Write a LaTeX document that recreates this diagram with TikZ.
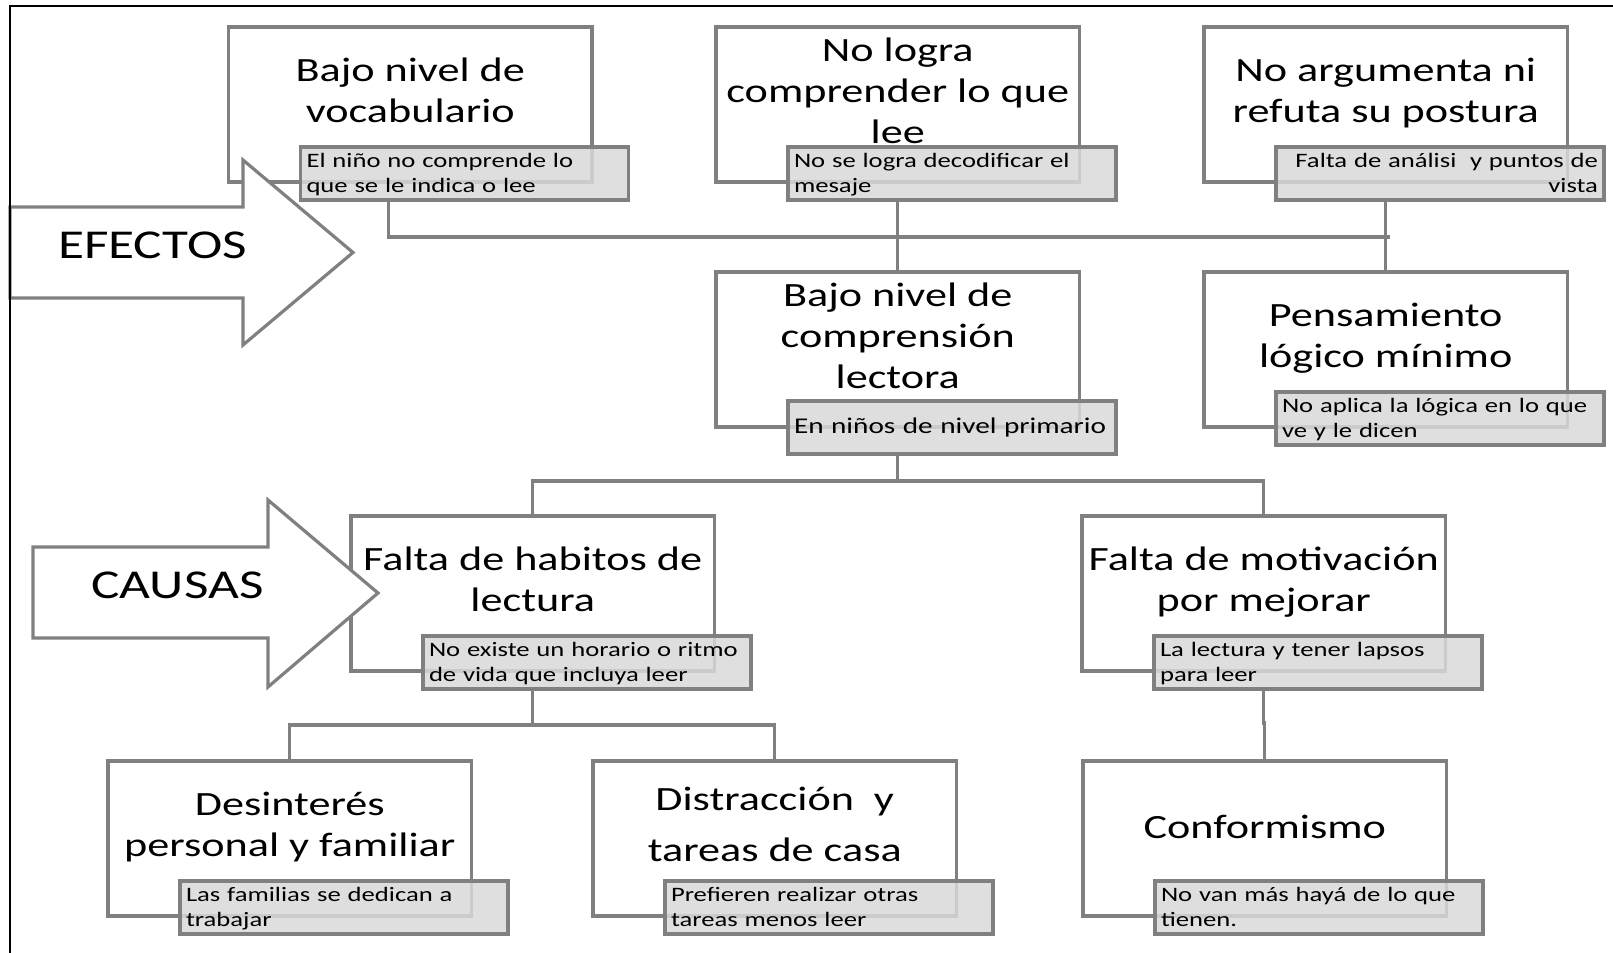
\documentclass[tikz,border=0pt]{standalone}
\usepackage{fontspec}
\setmainfont{Carlito}[FakeStretch=1.3]
\usepackage{tikz}

\definecolor{linegray}{RGB}{128,128,128}
\definecolor{notefill}{RGB}{217,217,217}

\newcommand{\boxfont}{\fontsize{17pt}{20.5pt}\selectfont}
\newcommand{\notefont}{\fontsize{10.25pt}{12.5pt}\selectfont}
\newcommand{\tagfont}{\fontsize{20.5pt}{24pt}\selectfont}
\newcommand{\topstrut}{\rule{0pt}{14pt}}
\newcommand{\botstrut}{\rule[-14pt]{0pt}{14pt}}
\newcommand{\notetop}{\rule{0pt}{8.5pt}}
\newcommand{\notebot}{\rule[-2.5pt]{0pt}{2.5pt}}

\begin{document}
\begin{tikzpicture}[x=0.5pt,y=-0.5pt,
	main node/.style={draw=linegray,line width=1.6pt,fill=white,anchor=north west,outer sep=0pt,
		minimum width=181.75pt,minimum height=77.5pt,inner sep=0pt,align=center,font=\boxfont,
		execute at begin node=\topstrut,execute at end node=\botstrut},
	note node/.style={draw=linegray,line width=1.6pt,fill=notefill,fill opacity=0.85,text opacity=1,
		anchor=north west,outer sep=0pt,minimum width=164pt,minimum height=26.5pt,inner xsep=3pt,inner ysep=0pt,
		text width=158pt,align=left,font=\notefont,
		execute at begin node=\notetop,execute at end node=\notebot},
	link/.style={draw=linegray,line width=1.6pt},
	big arrow/.style={draw=linegray,line width=1.6pt,fill=white},
	tag/.style={anchor=base,font=\tagfont}]
	
	\useasboundingbox (0,0) rectangle (1613,953);
	
	% efectos
	\node[main node] (e1) at (228.5,27) {Bajo nivel de\\vocabulario};
	\node[main node] (e2) at (716,27) {No logra\\comprender lo que\\lee};
	\node[main node] (e3) at (1204,27) {No argumenta ni\\refuta su postura};
	\node[main node] (p) at (716,272) {Bajo nivel de\\comprensión\\lectora};
	\node[main node] (e4) at (1204,272) {Pensamiento\\lógico mínimo};
	
	% causas
	\node[main node] (c1) at (351,516) {Falta de habitos de\\lectura};
	\node[main node] (c2) at (1082,516) {Falta de motivación\\por mejorar};
	\node[main node] (c11) at (108,761) {Desinterés\\personal y familiar};
	\node[main node] (c12) at (593,761) {Distracción~ y\\[5pt]tareas de casa};
	\node[main node] (c21) at (1083,761) {Conformismo};
	
	\node[note node] (e1n) at ([xshift=36pt,yshift=17.5pt]e1.south west) {El niño no comprende lo\\que se le indica o lee};
	\node[note node] (e2n) at ([xshift=36pt,yshift=17.5pt]e2.south west) {No se logra decodificar el\\mesaje};
	\node[note node,align=right] (e3n) at ([xshift=36pt,yshift=17.5pt]e3.south west) {Falta de análisi~ y puntos de\\vista};
	\node[note node,font=\fontsize{11.25pt}{13.5pt}\selectfont] (pn) at ([xshift=36pt,yshift=13pt]p.south west) {En niños de nivel primario};
	\node[note node] (e4n) at ([xshift=36pt,yshift=17.5pt]e4.south west) {No aplica la lógica en lo que\\ve y le dicen};
	\node[note node] (c1n) at ([xshift=36pt,yshift=17.5pt]c1.south west) {No existe un horario o ritmo\\de vida que incluya leer};
	\node[note node] (c2n) at ([xshift=36pt,yshift=17.5pt]c2.south west) {La lectura y tener lapsos\\para leer};
	\node[note node] (c11n) at ([xshift=36pt,yshift=17.5pt]c11.south west) {Las familias se dedican a\\trabajar};
	\node[note node] (c12n) at ([xshift=36pt,yshift=17.5pt]c12.south west) {Prefieren realizar otras\\tareas menos leer};
	\node[note node] (c21n) at ([xshift=36pt,yshift=17.5pt]c21.south west) {No van más hayá de lo que\\tienen.};
	
	\coordinate (top bar) at (897.75,237);
	\coordinate (low bar) at (897.75,481);
	\coordinate (sub bar) at (532.75,725);
	
	\draw[link] ([xshift=-38pt]e1n.south) |- (top bar) -- ([xshift=2pt]e3.south |- top bar);
	\draw[link] (e2.south |- e2n.south) -- (p.north);
	\draw[link] (e3.south |- e3n.south) -- (e4.north);
	\draw[link] (p.south |- pn.south) -- (low bar);
	\draw[link] (c1.north) |- (low bar) -| (c2.north);
	\draw[link] (c1.south |- c1n.south) -- (sub bar);
	\draw[link] (c11.north) |- (sub bar) -| (c12.north);
	\draw[link] (c2.south |- c2n.south) -- ++(0,34) -| (c21.north);
	
	% flechas
	\draw[big arrow] (10,207) -- (243,207) -- (243,160) -- (353,252.5) -- (243,345) -- (243,298) -- (10,298) -- cycle;
	\node[tag] (effects) at (152.5,258.3) {EFECTOS};
	\draw[big arrow] (33,547) -- (268,547) -- (268,500) -- (378,593) -- (268,687) -- (268,638) -- (33,638) -- cycle;
	\node[tag] (causes) at (177.5,598.3) {CAUSAS};
	
	\draw[line width=1pt] (9.5,953) -- (9.5,6) -- (1613,6);
	
\end{tikzpicture}
\end{document}
